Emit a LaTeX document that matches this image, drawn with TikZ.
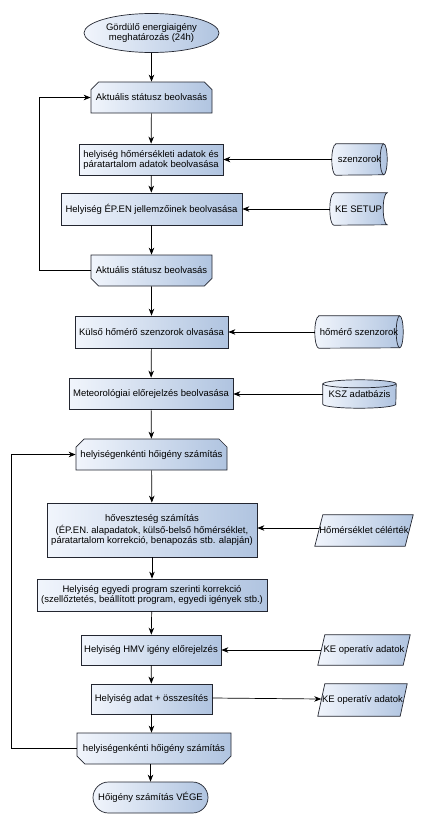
\documentclass[tikz,border=0pt]{standalone}
\usepackage{fontspec}
\setmainfont{Liberation Sans}
\usetikzlibrary{shapes.geometric,shapes.misc,arrows.meta,backgrounds}
\definecolor{ga}{RGB}{241,245,252}
\definecolor{gb}{RGB}{176,196,224}
\definecolor{edgec}{RGB}{35,38,48}
\begin{document}
\begin{tikzpicture}[x=1pt,y=1pt,
  txt/.style={font=\fontsize{9.5}{10}\selectfont, align=center, inner sep=0pt, text=black},
  sh/.style={draw=edgec, line width=0.7pt, left color=ga, right color=gb},
  proc/.style={txt, sh, rectangle},
  prep/.style={txt, sh, chamfered rectangle, chamfered rectangle xsep=4pt, chamfered rectangle ysep=4pt},
  prepT/.style={prep, chamfered rectangle corners={north west,north east}},
  prepB/.style={prep, chamfered rectangle corners={south west,south east}},
  ghost/.style={txt, rectangle},
  arr/.style={draw=black, line width=0.7pt, -{Stealth[length=7pt,width=5.5pt,inset=2.2pt]}},
]
\useasboundingbox (0,0) rectangle (424,-825);

% main column
\node[txt, sh, ellipse, minimum width=135pt, minimum height=39pt] (start) at (151.5,-33) {Gördülő energiaigény\\meghatározás (24h)};
\node[prepT, minimum width=121pt, minimum height=31pt] (akt1) at (151.5,-97.5) {Aktuális státusz beolvasás};
\node[proc, minimum width=144pt, minimum height=31pt] (hom) at (151,-159.5) {helyiség hőmérsékleti adatok és\\páratartalom adatok beolvasása};
\node[proc, minimum width=181pt, minimum height=32pt] (epen) at (151.5,-209) {Helyiség ÉP.EN jellemzőinek beolvasása};
\node[prepB, minimum width=121pt, minimum height=31pt] (akt2) at (151.5,-270.5) {Aktuális státusz beolvasás};
\node[proc, minimum width=153pt, minimum height=32pt] (kulso) at (151.5,-332) {Külső hőmérő szenzorok olvasása};
\node[proc, minimum width=164pt, minimum height=31pt] (met) at (151,-393.5) {Meteorológiai előrejelzés beolvasása};
\node[prepT, minimum width=151pt, minimum height=31pt] (hig1) at (151.5,-454.5) {helyiségenkénti hőigény számítás};
\node[proc, minimum width=210pt, minimum height=54pt] (hov) at (152,-530) {hőveszteség számítás\\ (ÉP.EN. alapadatok, külső-belső hőmérséklet,\\páratartalom korrekció, benapozás stb. alapján)};
\node[proc, minimum width=230pt, minimum height=32pt] (egy) at (152,-595) {Helyiség egyedi program szerinti korrekció\\(szellőztetés, beállított program, egyedi igények stb.)};
\node[proc, minimum width=140pt, minimum height=30pt] (hmv) at (151,-650) {Helyiség HMV igény előrejelzés};
\node[proc, minimum width=121pt, minimum height=30pt] (adat) at (151.5,-699) {Helyiség adat + összesítés};
\node[prepB, minimum width=154pt, minimum height=31pt] (hig2) at (154,-748.5) {helyiségenkénti hőigény számítás};
\node[txt, sh, rounded rectangle, minimum width=115pt, minimum height=31pt] (vege) at (150.5,-797.5) {Hőigény számítás VÉGE};

% side inputs (text nodes, shapes drawn on background)
\node[ghost, minimum width=55pt, minimum height=31pt] (szen) at (359.5,-159.5) {szenzorok};
\node[ghost, minimum width=57pt, minimum height=32pt] (kes) at (358.5,-209) {KE SETUP};
\node[ghost, minimum width=88pt, minimum height=32pt] (hsz) at (359,-332) {hőmérő szenzorok};
\node[ghost, minimum width=73pt, minimum height=28pt] (ksz) at (359.5,-394) {\raisebox{-2pt}{KSZ adatbázis}};
\node[ghost, minimum width=98pt, minimum height=31pt] (hcel) at (364,-530.5) {Hőmérséklet célérték};
\node[ghost, minimum width=92pt, minimum height=30pt] (keo1) at (364,-650) {KE operatív adatok};
\node[ghost, minimum width=89pt, minimum height=32pt] (keo2) at (362.5,-700) {KE operatív adatok};

\begin{scope}[on background layer]
  % horizontal cylinders
  \path[sh] ([xshift=4pt]szen.north west) -- ([xshift=-3.5pt]szen.north east)
     arc[start angle=90, end angle=-90, x radius=3.5pt, y radius=15.5pt]
     -- ([xshift=4pt]szen.south west)
     arc[start angle=270, end angle=90, x radius=4pt, y radius=15.5pt] -- cycle;
  \draw[draw=edgec, line width=0.7pt] ([xshift=-3.5pt]szen.north east)
     arc[start angle=90, end angle=270, x radius=3.5pt, y radius=15.5pt];
  \path[sh] ([xshift=4pt]hsz.north west) -- ([xshift=-3.5pt]hsz.north east)
     arc[start angle=90, end angle=-90, x radius=3.5pt, y radius=16pt]
     -- ([xshift=4pt]hsz.south west)
     arc[start angle=270, end angle=90, x radius=4pt, y radius=16pt] -- cycle;
  \draw[draw=edgec, line width=0.7pt] ([xshift=-3.5pt]hsz.north east)
     arc[start angle=90, end angle=270, x radius=3.5pt, y radius=16pt];
  % stored data
  \path[sh] ([xshift=4pt]kes.north west) -- (kes.north east)
     arc[start angle=90, end angle=270, x radius=4pt, y radius=16pt]
     -- ([xshift=4pt]kes.south west)
     arc[start angle=270, end angle=90, x radius=4pt, y radius=16pt] -- cycle;
  % vertical cylinder
  \path[sh] ([yshift=-4pt]ksz.north west) -- ([yshift=4pt]ksz.south west)
     arc[start angle=180, end angle=360, x radius=36.5pt, y radius=4pt]
     -- ([yshift=-4pt]ksz.north east)
     arc[start angle=0, end angle=180, x radius=36.5pt, y radius=4pt] -- cycle;
  \draw[draw=edgec, line width=0.7pt] ([yshift=-4pt]ksz.north west)
     arc[start angle=180, end angle=360, x radius=36.5pt, y radius=4pt];
  % parallelograms
  \path[sh] (hcel.south west) -- ([xshift=8pt]hcel.north west) -- (hcel.north east) -- ([xshift=-8pt]hcel.south east) -- cycle;
  \path[sh] (keo1.south west) -- ([xshift=7pt]keo1.north west) -- (keo1.north east) -- ([xshift=-7pt]keo1.south east) -- cycle;
  \path[sh] (keo2.south west) -- ([xshift=7pt]keo2.north west) -- (keo2.north east) -- ([xshift=-7pt]keo2.south east) -- cycle;
\end{scope}

% main flow
\draw[arr] (start) -- (akt1);
\draw[arr] (akt1) -- (hom);
\draw[arr] (hom) -- (epen);
\draw[arr] (epen) -- (akt2);
\draw[arr] (akt2) -- (kulso);
\draw[arr] (kulso) -- (met);
\draw[arr] (met) -- (hig1);
\draw[arr] (hig1) -- (hov);
\draw[arr] (hov) -- (egy);
\draw[arr] (egy) -- (hmv);
\draw[arr] (hmv) -- (adat);
\draw[arr] (adat.south) -- (adat.south |- hig2.north);
\draw[arr] (hig2.south -| vege.north) -- (vege.north);

% loops
\draw[arr] (akt2.west) -- ++(-51pt,0) |- (akt1.west);
\draw[arr] (hig2.west) -- ++(-65pt,0) |- (hig1.west);

% side inputs
\draw[arr] (szen.west) -- (szen.west -| hom.east);
\draw[arr] (kes.west) -- (kes.west -| epen.east);
\draw[arr] (hsz.west) -- (hsz.west -| kulso.east);
\draw[arr] (ksz.west) -- (ksz.west -| met.east);
\draw[arr] ([xshift=4pt,yshift=2.5pt]hcel.west) -- ([yshift=2.5pt]hcel.west -| hov.east);
\draw[arr] ([xshift=3.5pt]keo1.west) -- (keo1.west -| hmv.east);
\draw[arr] ([yshift=1pt]adat.east) -- ([xshift=3.5pt,yshift=1pt]keo2.west);
\end{tikzpicture}
\end{document}
